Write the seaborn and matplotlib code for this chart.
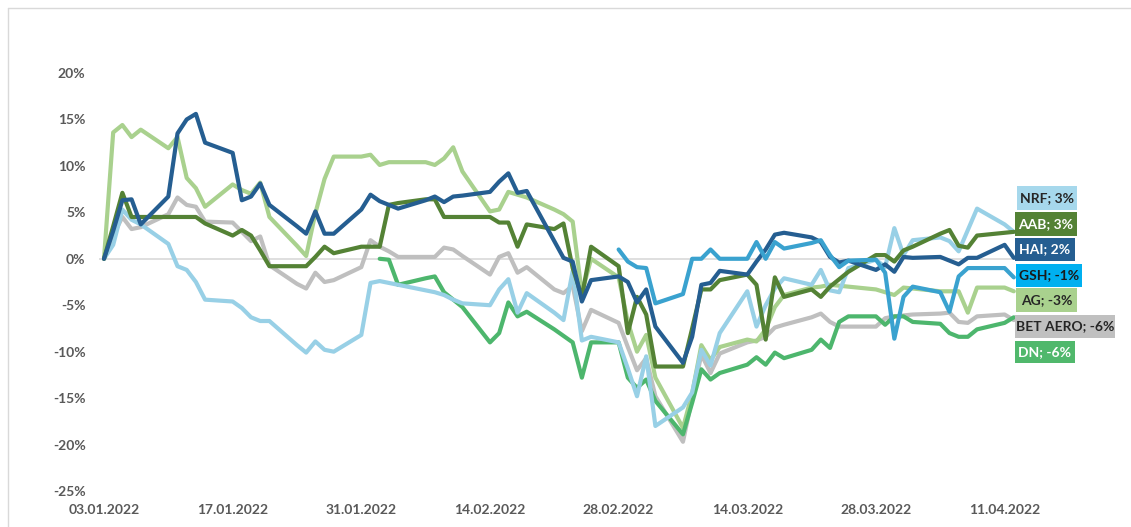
import matplotlib
matplotlib.use("Agg")
import matplotlib.pyplot as plt
from matplotlib.patches import Rectangle
from matplotlib.lines import Line2D
import pandas as pd
import seaborn as sns

# ---------------- data ----------------
dates = [
    "03.01.2022", "04.01.2022", "05.01.2022", "06.01.2022", "07.01.2022",
    "10.01.2022", "11.01.2022", "12.01.2022", "13.01.2022", "14.01.2022",
    "17.01.2022", "18.01.2022", "19.01.2022", "20.01.2022", "21.01.2022",
    "24.01.2022", "25.01.2022", "26.01.2022", "27.01.2022", "28.01.2022",
    "31.01.2022", "01.02.2022", "02.02.2022", "03.02.2022", "04.02.2022",
    "07.02.2022", "08.02.2022", "09.02.2022", "10.02.2022", "11.02.2022",
    "14.02.2022", "15.02.2022", "16.02.2022", "17.02.2022", "18.02.2022",
    "21.02.2022", "22.02.2022", "23.02.2022", "24.02.2022", "25.02.2022",
    "28.02.2022", "01.03.2022", "02.03.2022", "03.03.2022", "04.03.2022",
    "07.03.2022", "08.03.2022", "09.03.2022", "10.03.2022", "11.03.2022",
    "14.03.2022", "15.03.2022", "16.03.2022", "17.03.2022", "18.03.2022",
    "21.03.2022", "22.03.2022", "23.03.2022", "24.03.2022", "25.03.2022",
    "28.03.2022", "29.03.2022", "30.03.2022", "31.03.2022", "01.04.2022",
    "04.04.2022", "05.04.2022", "06.04.2022", "07.04.2022", "08.04.2022",
    "11.04.2022", "12.04.2022",
]

NA = None

hai = [0, 3.0, 6.3, 6.4, 3.7,
       6.7, 13.5, 15.0, 15.6, 12.5,
       11.4, 6.3, 6.7, 8.1, 5.8,
       3.5, 2.7, 5.1, 2.7, 2.7,
       5.3, 6.9, 6.2, 5.8, 5.4,
       6.3, 6.7, 6.1, 6.7, 6.8,
       7.2, 8.3, 9.2, 7.1, 7.3,
       1.9, 0.1, -0.3, -4.6, -2.3,
       -1.9, -2.5, -4.7, -3.3, -7.3,
       -11.2, -8.4, -2.8, -2.6, -1.3,
       -1.7, -0.3, 1.0, 2.6, 2.8,
       2.3, 1.8, 0.2, -0.4, -0.2,
       -1.2, -0.6, -1.4, 0.2, 0.1,
       0.2, -0.2, -0.6, 0.1, 0.1,
       1.5, 0.1]

aab = [0, 3.5, 7.1, 4.5, 4.5,
       4.5, 4.5, 4.5, 4.5, 3.8,
       2.5, 3.1, 2.5, 0.9, -0.8,
       -0.8, -0.8, 0.2, 1.3, 0.6,
       1.3, 1.3, 1.3, 5.8, 6.0,
       6.4, 6.4, 4.5, 4.5, 4.5,
       4.5, 3.9, 3.9, 1.3, 3.7,
       3.2, 3.8, -1.0, -4.1, 1.3,
       -0.8, -8.0, -4.1, -6.0, -11.6,
       -11.6, -7.5, -3.3, -3.3, -2.3,
       -1.7, -2.8, -8.7, -2.0, -4.1,
       -3.3, -4.1, -3.0, -2.2, -1.4,
       0.4, 0.4, -0.3, 0.9, 1.3,
       2.7, 3.1, 1.4, 1.2, 2.5,
       2.8, 2.9]

ag = [0, 13.6, 14.4, 13.1, 13.9,
      11.9, 13.1, 8.7, 7.6, 5.6,
      8.0, 7.4, 7.0, 8.2, 4.5,
      1.4, 0.3, 4.9, 8.6, 11.0,
      11.0, 11.2, 10.1, 10.4, 10.4,
      10.4, 10.1, 10.8, 12.0, 9.4,
      5.1, 5.3, 7.2, 6.9, 6.6,
      5.3, 4.8, 4.0, -3.7, 0.0,
      -2.0, -6.8, -10.0, -8.2, -12.8,
      -18.2, -14.5, -9.3, -10.9, -9.5,
      -8.7, -8.9, -7.6, -5.2, -3.9,
      -3.1, -3.0, -2.8, -2.9, -3.0,
      -3.3, -3.6, -3.9, -3.1, -3.2,
      -3.5, -3.5, -3.5, -5.8, -3.1,
      -3.1, -3.5]

bet_aero = [0, 2.5, 4.5, 3.2, 3.4,
            4.8, 6.6, 5.8, 5.6, 4.0,
            3.9, 2.9, 1.9, 2.4, -0.7,
            -2.7, -3.2, -1.5, -2.5, -2.3,
            -0.9, 2.0, 1.3, 0.8, 0.2,
            0.2, 0.2, 1.2, 1.0, 0.3,
            -1.7, 0.2, 0.6, -1.5, -0.9,
            -3.3, -3.7, -2.9, -7.8, -5.5,
            -6.9, -9.5, -12.0, -10.7, -14.8,
            -19.7, -15.0, -10.3, -12.3, -10.2,
            -9.0, -8.8, -8.4, -7.4, -7.1,
            -6.3, -5.9, -6.8, -7.3, -7.3,
            -7.3, -6.4, -6.2, -6.1, -6.0,
            -5.9, -5.8, -6.8, -6.9, -6.2,
            -6.0, -6.6]

nrf = [0, 1.5, 5.3, 4.2, 3.7,
       1.6, -0.8, -1.2, -2.5, -4.4,
       -4.6, -5.3, -6.3, -6.7, -6.7,
       -9.3, -10.1, -8.9, -9.8, -10.0,
       -8.2, -2.6, -2.4, -2.6, -2.8,
       -3.4, -3.6, -3.9, -4.4, -4.8,
       -5.0, -3.3, -2.2, -5.8, -3.7,
       -5.8, -6.6, -1.3, -8.8, -8.4,
       -9.0, -11.8, -14.8, -10.5, -18.0,
       -16.0, -14.4, -9.8, -11.5, -8.0,
       -3.5, -7.3, -5.0, -3.2, -2.1,
       -2.8, -1.2, -3.4, -3.6, -1.0,
       -0.1, -0.9, 3.3, 0.4, 2.0,
       2.3, 1.9, 0.8, 3.1, 5.4,
       3.7, 2.9]

dn = [NA, NA, NA, NA, NA,
      NA, NA, NA, NA, NA,
      NA, NA, NA, NA, NA,
      NA, NA, NA, NA, NA,
      NA, NA, 0.0, -0.1, -2.8,
      -2.1, -1.9, -3.6, -4.4, -5.2,
      -9.0, -8.0, -4.7, -6.2, -5.7,
      -7.6, -8.3, -9.0, -12.8, -9.0,
      -9.0, -12.8, -13.9, -13.0, -15.3,
      -18.9, -15.5, -11.9, -13.0, -12.3,
      -11.4, -10.6, -11.4, -10.1, -10.7,
      -9.8, -8.7, -9.6, -6.8, -6.2,
      -6.2, -7.1, -6.2, -6.2, -6.8,
      -7.0, -8.0, -8.4, -8.4, -7.6,
      -6.9, -6.3]

gsh = [NA] * 40 + [
      1.0, -0.3, -0.9, -1.0, -4.8,
      -3.8, 0.0, 0.0, 1.0, 0.0,
      0.0, 1.8, 0.0, 1.8, 1.1,
      1.7, 2.0, 0.4, -0.9, -0.2,
      -0.1, -1.5, -8.6, -4.1, -3.0,
      -3.6, -5.7, -1.9, -1.0, -1.0,
      -1.0, -2.0]

series_names = ["NRF", "AAB", "HAI", "GSH", "AG", "BET AERO", "DN"]
end_labels = ["NRF; 3%", "AAB; 3%", "HAI; 2%", "GSH; -1%", "AG; -3%",
              "BET AERO; -6%", "DN; -6%"]
y_ticks = [-25, -20, -15, -10, -5, 0, 5, 10, 15, 20]
x_tick_dates = ["03.01.2022", "17.01.2022", "31.01.2022", "14.02.2022",
                "28.02.2022", "14.03.2022", "28.03.2022", "11.04.2022"]

# ---------------- styles ----------------
line_colors = {
    "NRF": "#98D0E6",
    "AAB": "#548235",
    "HAI": "#255E91",
    "GSH": "#3AA2CF",
    "AG": "#A9D18E",
    "BET AERO": "#BFBFBF",
    "DN": "#4DB66D",
}
label_bg = {
    "NRF": "#A6D8EC",
    "AAB": "#548235",
    "HAI": "#255E91",
    "GSH": "#00B0F0",
    "AG": "#A9D18E",
    "BET AERO": "#C0C0C0",
    "DN": "#50B86C",
}
label_fg = {
    "NRF": "#262626", "AAB": "#FFFFFF", "HAI": "#FFFFFF", "GSH": "#1A1A1A",
    "AG": "#262626", "BET AERO": "#262626", "DN": "#FFFFFF",
}
# label box pixel extents (x0, y0, x1, y1) in figure pixels from top-left
label_boxes = {
    "NRF": (1017, 186, 1077, 210),
    "AAB": (1015, 212, 1077, 236),
    "HAI": (1015, 238, 1075, 261),
    "GSH": (1016, 264, 1082, 287),
    "AG": (1016, 288, 1077, 312),
    "BET AERO": (1015, 315, 1115, 338),
    "DN": (1015, 341, 1075, 363),
}
draw_order = ["BET AERO", "AG", "DN", "NRF", "AAB", "HAI", "GSH"]

W, H = 1131, 527
sns.set_theme(style="white")
plt.rcParams["font.family"] = ["Lato", "DejaVu Sans"]

df = pd.DataFrame({
    "date": pd.to_datetime(dates, format="%d.%m.%Y"),
    "NRF": nrf, "AAB": aab, "HAI": hai, "GSH": gsh,
    "AG": ag, "BET AERO": bet_aero, "DN": dn,
})
long = df.melt(id_vars="date", var_name="series", value_name="value")
long["value"] = pd.to_numeric(long["value"])
long = long.dropna()

fig = plt.figure(figsize=(W / 100, H / 100), dpi=100)
ax = fig.add_axes([99.4 / W, 1 - 491 / H, 919 / W, (491 - 73) / H])

ax.axhline(0, color="#D9D9D9", lw=1.2, zorder=0.5)
sns.lineplot(data=long, x="date", y="value", hue="series",
             hue_order=draw_order, palette=line_colors, linewidth=3.0,
             legend=False, ax=ax, estimator=None, sort=True)

start = pd.Timestamp("2022-01-03")
ax.set_xlim(start - pd.Timedelta(hours=12), start + pd.Timedelta(days=99.5))
ax.set_ylim(-25, 20)
ax.set_yticks(y_ticks)
ax.set_yticklabels([f"{v}%" for v in y_ticks])
xt = pd.to_datetime(x_tick_dates, format="%d.%m.%Y")
ax.set_xticks(xt)
ax.set_xticklabels(x_tick_dates)
ax.set_xlabel("")
ax.set_ylabel("")
for s in ax.spines.values():
    s.set_visible(False)
ax.tick_params(axis="both", length=0, labelsize=10, labelcolor="#595959")
ax.tick_params(axis="x", pad=9)
ax.tick_params(axis="y", pad=10)
for t in ax.get_xticklabels() + ax.get_yticklabels():
    t.set_fontweight("bold")

# end labels
for name, text in zip(series_names, end_labels):
    x0, y0, x1, y1 = label_boxes[name]
    fig.patches.append(Rectangle((x0 / W, 1 - y1 / H), (x1 - x0) / W,
                                 (y1 - y0) / H, transform=fig.transFigure,
                                 facecolor=label_bg[name], edgecolor="none",
                                 zorder=5))
    fig.text((x0 + x1) / 2 / W, 1 - (y0 + y1) / 2 / H, text,
             ha="center", va="center", fontsize=10, fontweight="bold",
             color=label_fg[name], zorder=6)

# chart border (left and top)
fig.lines.append(Line2D([8 / W, 8 / W], [0, 1 - 8 / H],
                        transform=fig.transFigure, color="#D9D9D9", lw=1))
fig.lines.append(Line2D([8 / W, 1], [1 - 8 / H, 1 - 8 / H],
                        transform=fig.transFigure, color="#D9D9D9", lw=1))

fig.savefig("out.png", dpi=100)
